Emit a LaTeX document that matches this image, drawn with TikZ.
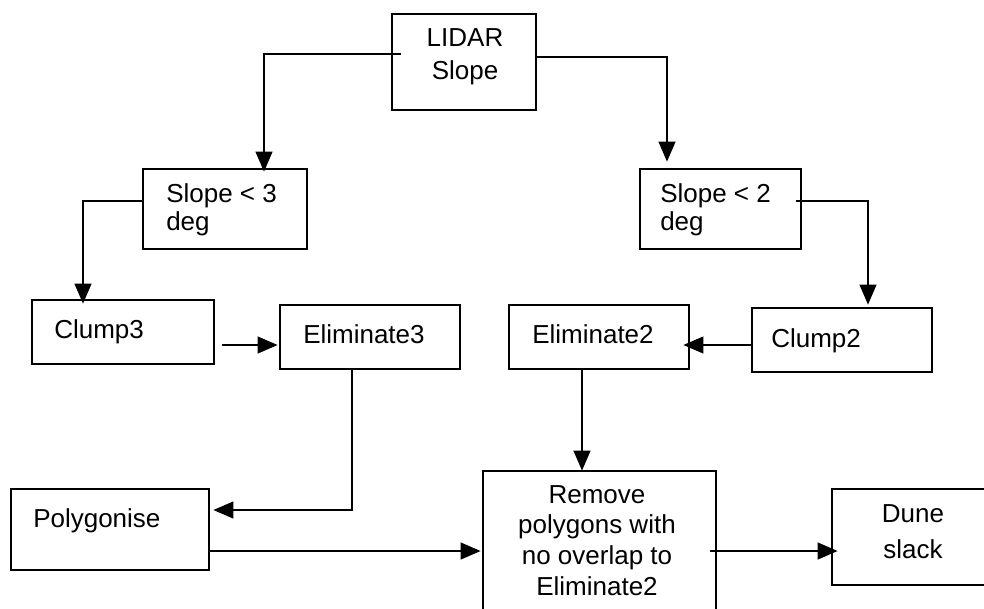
\documentclass[tikz,border=0pt]{standalone}
\usepackage{fontspec}
\setmainfont{Liberation Sans}
\usetikzlibrary{arrows.meta}
\begin{document}
\begin{tikzpicture}[x=0.75pt, y=-0.75pt,
  box/.style={draw, line width=2pt, rectangle, inner sep=0pt},
  lbl/.style={inner sep=0pt, font=\fontsize{19.5}{23}\selectfont},
  arr/.style={line width=1.6pt, -{Triangle[length=15pt, width=12.5pt]}},
]
\useasboundingbox (0,0) rectangle (984,608);
\clip (0,0) rectangle (984,608);

% boxes
\node[box, minimum width=108pt,   minimum height=72pt]    (lidar)  at (464,62)    {};
\node[box, minimum width=123pt,   minimum height=60pt]    (s3)     at (225,209)   {};
\node[box, minimum width=120.75pt,minimum height=60pt]    (s2)     at (720.5,209) {};
\node[box, minimum width=136.5pt, minimum height=48pt]    (clump3) at (123,332)   {};
\node[box, minimum width=135pt,   minimum height=48pt]    (elim3)  at (370,337)   {};
\node[box, minimum width=135pt,   minimum height=48pt]    (elim2)  at (599,337)   {};
\node[box, minimum width=135pt,   minimum height=48pt]    (clump2) at (842,340)   {};
\node[box, minimum width=148.5pt, minimum height=60.75pt] (poly)   at (110,529.5) {};
\node[box, minimum width=174.75pt,minimum height=120pt]   (remove) at (599.5,551) {};
\node[box, minimum width=121.5pt, minimum height=72pt]    (dune)   at (913,537)   {};

% texts (multi-line ones are placed by the baseline of their last line)
\node[lbl, anchor=base, align=center, font=\fontsize{19.5}{24.75}\selectfont] (lidar-t) at (465,79) {LIDAR\\Slope};
\node[lbl, anchor=base west, align=left, font=\fontsize{19.5}{21}\selectfont] (s3-t) at (166,230) {Slope < 3\\deg};
\node[lbl, anchor=base west, align=left, font=\fontsize{19.5}{21}\selectfont] (s2-t) at (660,230) {Slope < 2\\deg};
\node[lbl, anchor=base west] (clump3-t) at (54,338)  {Clump3};
\node[lbl, anchor=base west] (elim3-t)  at (303,343) {Eliminate3};
\node[lbl, anchor=base west] (elim2-t)  at (532,343) {Eliminate2};
\node[lbl, anchor=base west] (clump2-t) at (771,347) {Clump2};
\node[lbl, anchor=base west] (poly-t)   at (33,527)  {Polygonise};
\node[lbl, anchor=base, align=center] (remove-t) at (597,595) {Remove\\polygons with\\no overlap to\\Eliminate2};
\node[lbl, anchor=base, align=center, font=\fontsize{19.5}{27}\selectfont] (dune-t) at (913,558) {Dune\\slack};

% connectors
\draw[arr] ([shift={(10,-8)}]lidar.west) -| ([shift={(39,4)}]s3.north);
\draw[arr] ([shift={(0,-5)}]lidar.east) -| ([shift={(-53.5,-6)}]s2.north);
\draw[arr] ([shift={(0,-8)}]s3.west) -| ([shift={(-40,5)}]clump3.north);
\draw[arr] ([shift={(-6,-8)}]s2.east) -| ([shift={(26,-2)}]clump2.north);
\draw[arr] ([shift={(7,13)}]clump3.east) -- ([shift={(-1,8)}]elim3.west);
\draw[arr] ([shift={(0,5)}]clump2.west) -- ([shift={(-7,8)}]elim2.east);
\draw[arr] ([shift={(-18,-2)}]elim3.south) |- ([shift={(3,-19.5)}]poly.east);
\draw[arr] ([shift={(-17,-2)}]elim2.south) -- ([shift={(-17.5,1)}]remove.north);
\draw[arr] ([shift={(0,21.5)}]poly.east) -- ([shift={(-1,0)}]remove.west);
\draw[arr] ([shift={(-7,0)}]remove.east) -- ([shift={(7,14)}]dune.west);
\end{tikzpicture}
\end{document}
